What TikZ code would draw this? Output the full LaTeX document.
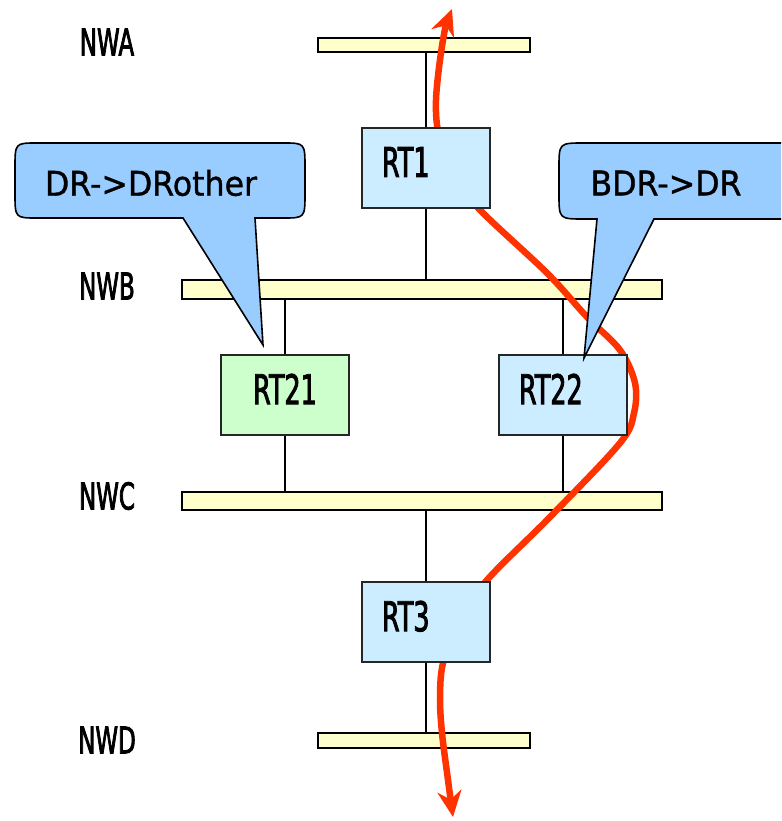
\documentclass[tikz,border=0pt]{standalone}
\usepackage{fontspec}
\usepackage{xcolor}
\usepackage{tikz}
\usetikzlibrary{arrows.meta, positioning}

\newfontfamily\netfont{DejaVu Sans}[FakeStretch=0.62, FakeBold=2]
\newfontfamily\notefont{DejaVu Sans}[FakeStretch=0.93, FakeBold=1]

\definecolor{barfill}{HTML}{FFFFCC}
\definecolor{rtblue}{HTML}{CCECFF}
\definecolor{rtgreen}{HTML}{CCFFCC}
\definecolor{noteblue}{HTML}{99CCFF}
\definecolor{routered}{HTML}{FF3300}

\begin{document}
\begin{tikzpicture}[x=1pt, y=-1pt]
    % Styles
    \tikzset{
        bar/.style     = {rectangle, draw=black, line width=1.6pt, fill=barfill, inner sep=0pt},
        router/.style  = {rectangle, draw=black!85, line width=1.6pt, fill=rtblue, minimum height=80pt, text width=88pt, inner xsep=20pt, inner ysep=0pt, text depth=12pt, align=left, font=\netfont\fontsize{41}{41}\selectfont},
        netlabel/.style = {inner sep=0pt, font=\netfont\fontsize{37}{37}\selectfont},
        link/.style    = {draw, line width=1.6pt},
        route/.style   = {draw=routered, line width=6.5pt, line cap=round, {Stealth[length=26pt,width=24pt]}-{Stealth[length=26pt,width=24pt]}},
        callout/.style = {draw=black, line width=1.6pt, fill=noteblue},
        note/.style    = {inner sep=0pt, font=\notefont\fontsize{34}{34}\selectfont}
    }
    \clip (0,0) rectangle (781,821);

    % Netze
    \node [bar, minimum width=212pt, minimum height=14pt] (nwa) at (424,45) {};
    \node [bar, minimum width=480pt, minimum height=19pt] (nwb) at (422,289.5) {};
    \node [bar, minimum width=480pt, minimum height=18pt] (nwc) at (422,501) {};
    \node [bar, minimum width=212pt, minimum height=15pt] (nwd) at (424,740.5) {};

    \node [netlabel] (lbla) at (107,42) {NWA};
    \node [netlabel] (lblb) at (107,286) {NWB};
    \node [netlabel] (lblc) at (107,496) {NWC};
    \node [netlabel] (lbld) at (107,740) {NWD};

    % Router
    \coordinate (rt1pos) at (426,168);
    \coordinate (rt21pos) at (285,395);
    \coordinate (rt22pos) at (563,395);
    \coordinate (rt3pos) at (426,622);

    % Verbindungen
    \path [link] (rt1pos) ++(0,-40) -- (rt1pos |- nwa.south);
    \path [link] (rt1pos) ++(0,40) -- (rt1pos |- nwb.north);
    \path [link] (rt21pos) ++(0,-40) -- (rt21pos |- nwb.south);
    \path [link] (rt21pos) ++(0,40) -- (rt21pos |- nwc.north);
    \path [link] (rt22pos) ++(0,-40) -- (rt22pos |- nwb.south);
    \path [link] (rt22pos) ++(0,40) -- (rt22pos |- nwc.north);
    \path [link] (rt3pos) ++(0,-40) -- (rt3pos |- nwc.south);
    \path [link] (rt3pos) ++(0,40) -- (rt3pos |- nwd.north);

    % Weg der Pakete
    \coordinate (up) at (452,9);
    \coordinate (down) at (453,817);
    \draw [route] plot [smooth, tension=0.55] coordinates {(up) (443,40) (436,100) (440,140) (458,180) (480,210) (547,273) (587,317) (620,350) (635,383) (634,413) (620,443) (550,517) (487,580) (458,622) (443,663) (440,697) (442,733) (448,780) (down)};

    \node [router] (rt1) at (rt1pos) {RT1};
    \node [router, fill=rtgreen, align=center] (rt21) at (rt21pos) {RT21};
    \node [router] (rt22) at (rt22pos) {RT22};
    \node [router] (rt3) at (rt3pos) {RT3};

    % Sprechblasen
    \draw [callout] (37,143) -- (283,143) .. controls (305,143) .. (305,168) -- (305,193) .. controls (305,218) .. (283,218)
        -- (255,218) -- (263,345) -- (183,218) -- (37,218) .. controls (15,218) .. (15,193) -- (15,168) .. controls (15,143) .. (37,143) -- cycle;
    \node [note] (drnote) at (151,183) {DR->DRother};

    \draw [callout] (584,143) -- (776,143) .. controls (800,143) .. (800,168) -- (800,194) .. controls (800,219) .. (776,219)
        -- (654,219) -- (584,358) -- (597,219) -- (584,219) .. controls (559,219) .. (559,194) -- (559,168) .. controls (559,143) .. (584,143) -- cycle;
    \node [note] (bdrnote) at (666,183) {BDR->DR};
\end{tikzpicture}
\end{document}
